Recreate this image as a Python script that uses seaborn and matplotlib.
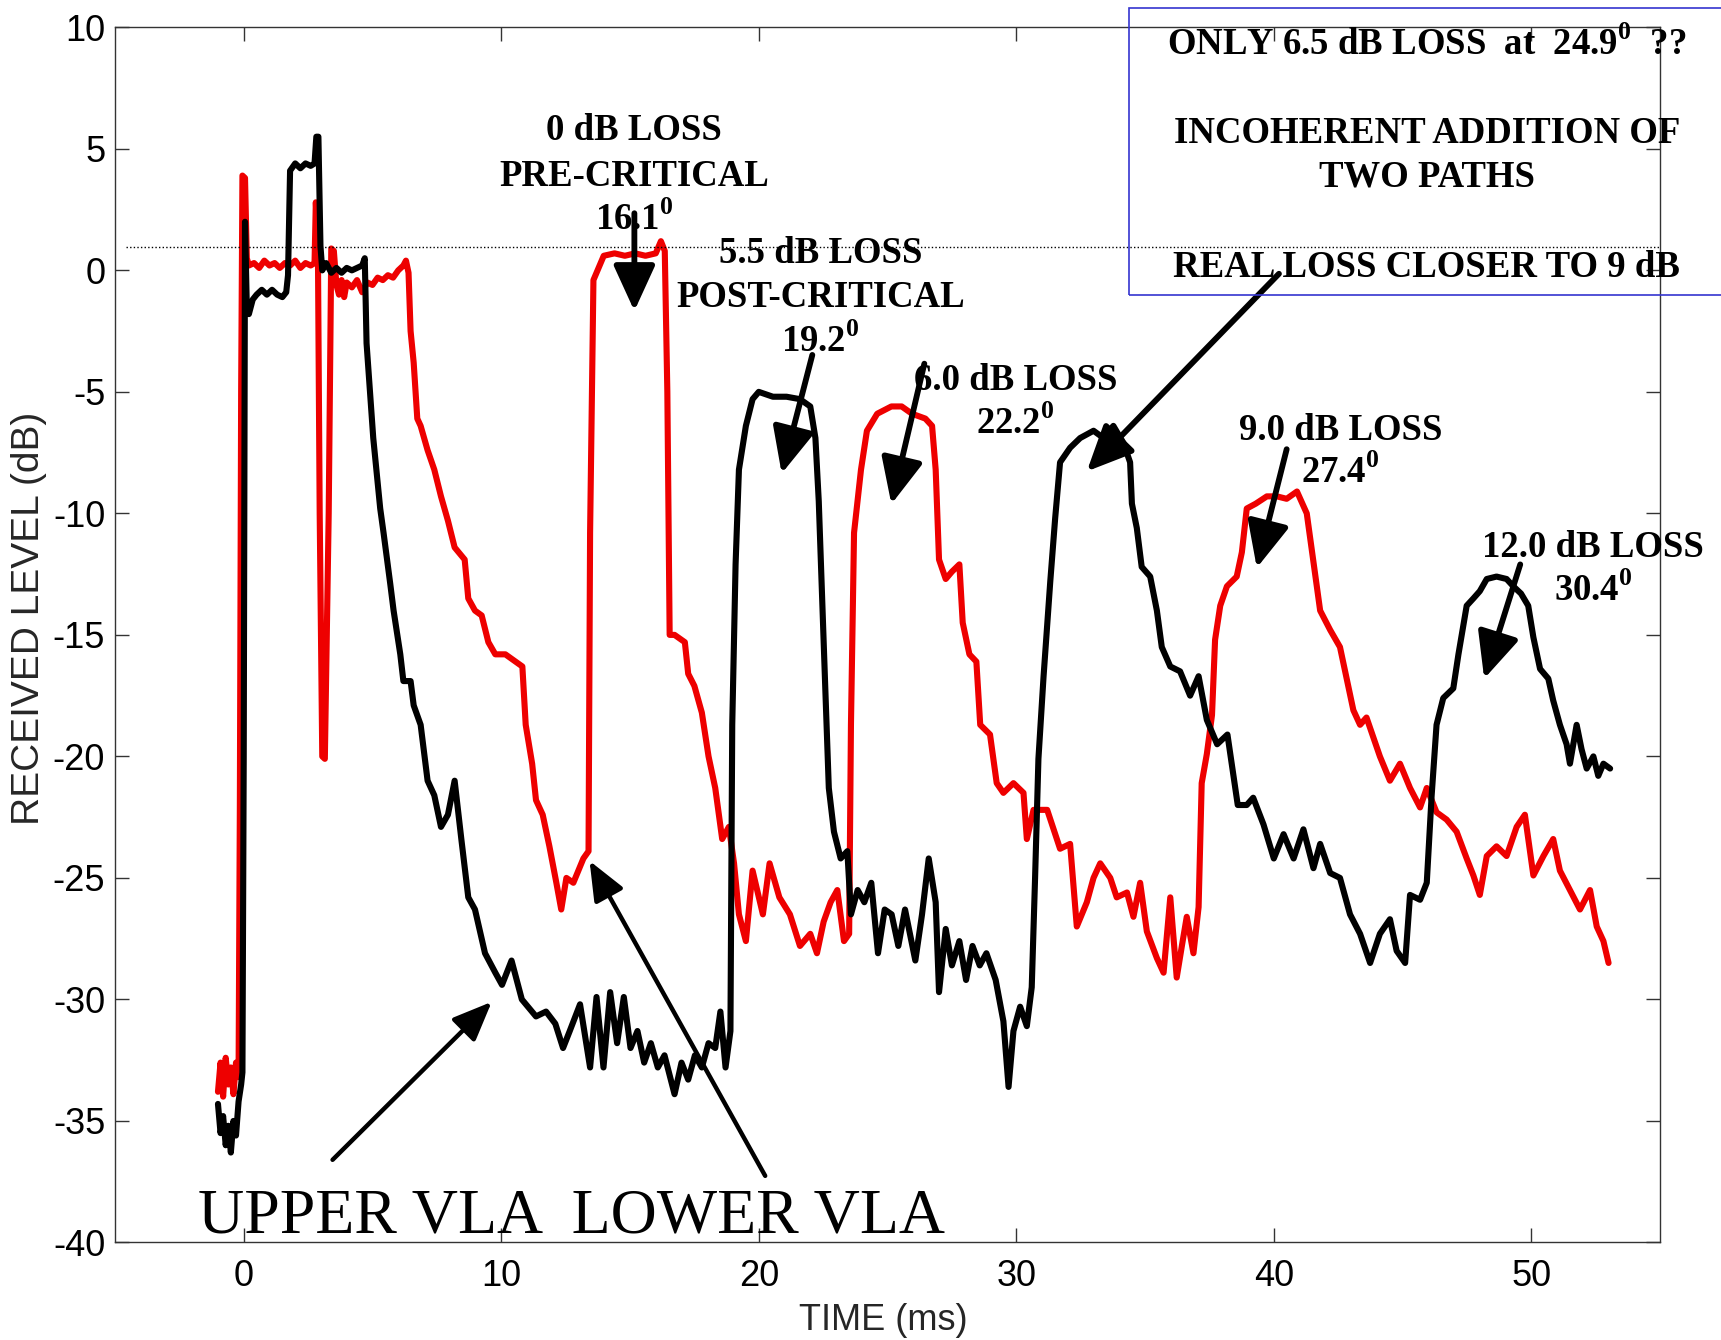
import matplotlib
matplotlib.use("Agg")
import matplotlib.pyplot as plt
import seaborn as sns
import pandas as pd
from matplotlib.patches import Rectangle

# ---------------- data ----------------
upper_t = [-1.0, -0.9, -0.8, -0.7, -0.6, -0.5, -0.4, -0.3, -0.2, -0.1, -0.05, 0.0, 0.05, 0.12, 0.2, 0.35,
           0.5, 0.7, 0.9, 1.1, 1.3, 1.5, 1.65, 1.72, 1.8, 2.0, 2.2, 2.4, 2.6, 2.75, 2.82, 2.9, 2.98, 3.05,
           3.2, 3.4, 3.6, 3.8, 4.0, 4.2, 4.4, 4.6, 4.7, 4.77, 5.03, 5.3, 5.43, 5.69, 5.82, 6.08, 6.2, 6.48,
           6.6, 6.87, 7.14, 7.4, 7.66, 7.93, 8.19, 8.45, 8.72, 8.98, 9.37, 9.77, 10.03, 10.4, 10.8, 11.35,
           11.74, 12.1, 12.4, 12.66, 13.06, 13.45, 13.7, 13.97, 14.23, 14.5, 14.76, 15.02, 15.29, 15.55,
           15.81, 16.08, 16.34, 16.73, 17.0, 17.26, 17.52, 17.79, 18.05, 18.31, 18.51, 18.71, 18.9, 18.97,
           19.1, 19.23, 19.5, 19.76, 20.0, 20.55, 21.08, 21.6, 22.0, 22.2, 22.33, 22.46, 22.59, 22.72,
           22.92, 23.18, 23.44, 23.58, 23.84, 24.1, 24.37, 24.63, 24.89, 25.16, 25.42, 25.68, 26.08, 26.34,
           26.6, 26.87, 27.0, 27.26, 27.5, 27.79, 28.05, 28.3, 28.58, 28.84, 29.2, 29.5, 29.7, 29.89, 30.15,
           30.41, 30.6, 30.73, 30.86, 31.06, 31.32, 31.51, 31.7, 32.09, 32.48, 33.0, 33.39, 33.77, 34.16,
           34.42, 34.49, 34.68, 34.87, 35.2, 35.46, 35.65, 35.98, 36.36, 36.75, 37.08, 37.4, 37.8, 38.2,
           38.6, 38.95, 39.2, 39.6, 40.0, 40.38, 40.77, 41.15, 41.54, 41.8, 42.19, 42.57, 42.96, 43.35,
           43.74, 44.12, 44.51, 44.77, 45.1, 45.29, 45.68, 45.94, 46.13, 46.32, 46.58, 46.97, 47.17, 47.49,
           47.75, 48.0, 48.27, 48.65, 49.04, 49.3, 49.6, 49.88, 50.08, 50.34, 50.66, 50.85, 51.11, 51.37,
           51.5, 51.76, 51.95, 52.15, 52.41, 52.6, 52.8, 53.06]
upper_db = [-34.3, -35.5, -34.8, -36.0, -35.2, -36.3, -35.0, -35.6, -34.2, -33.5, -33.0, -20.0, 2.0, -1.5,
            -1.8, -1.2, -1.0, -0.8, -1.0, -0.8, -1.0, -1.1, -0.9, -0.2, 4.1, 4.4, 4.2, 4.4, 4.3, 4.4, 5.5,
            5.5, 1.0, 0.0, 0.3, -0.1, 0.1, -0.1, 0.1, 0.0, 0.1, 0.2, 0.5, -3.0, -6.9, -9.8, -10.8, -12.9,
            -14.0, -15.8, -16.9, -16.9, -17.9, -18.7, -21.0, -21.6, -22.9, -22.4, -21.0, -23.4, -25.8,
            -26.3, -28.1, -28.9, -29.4, -28.4, -30.0, -30.7, -30.5, -31.0, -32.0, -31.3, -30.2, -32.8,
            -29.9, -32.8, -29.7, -31.8, -29.9, -32.0, -31.3, -32.6, -31.8, -32.8, -32.3, -33.9, -32.6,
            -33.3, -32.3, -32.8, -31.8, -32.0, -30.5, -32.8, -31.3, -18.7, -12.1, -8.2, -6.4, -5.3, -5.0,
            -5.2, -5.2, -5.3, -5.6, -6.9, -9.5, -13.5, -17.4, -21.3, -23.1, -24.2, -23.9, -26.5, -25.5,
            -26.0, -25.2, -28.1, -26.3, -26.5, -27.8, -26.3, -28.4, -26.5, -24.2, -26.0, -29.7, -27.1,
            -28.6, -27.6, -29.2, -27.8, -28.6, -28.1, -29.2, -30.9, -33.6, -31.3, -30.3, -31.1, -29.5,
            -25.0, -20.1, -16.7, -12.8, -10.2, -7.9, -7.3, -6.9, -6.6, -6.9, -6.4, -7.1, -7.9, -9.6, -10.6,
            -12.2, -12.6, -14.0, -15.5, -16.3, -16.5, -17.5, -16.7, -18.5, -19.5, -19.1, -22.0, -22.0,
            -21.7, -22.8, -24.2, -23.2, -24.2, -23.0, -24.6, -23.6, -24.8, -25.0, -26.5, -27.3, -28.5,
            -27.3, -26.7, -28.0, -28.5, -25.7, -25.9, -25.2, -21.6, -18.7, -17.6, -17.2, -15.8, -13.8,
            -13.5, -13.2, -12.7, -12.6, -12.7, -13.0, -13.3, -13.8, -15.1, -16.4, -16.8, -17.7, -18.7,
            -19.5, -20.3, -18.7, -19.7, -20.5, -20.0, -20.8, -20.3, -20.5]

lower_t = [-1.0, -0.9, -0.8, -0.7, -0.6, -0.5, -0.4, -0.3, -0.2, -0.15, -0.1, -0.05, 0.05, 0.12, 0.2, 0.4,
           0.6, 0.8, 1.0, 1.2, 1.4, 1.6, 1.8, 2.0, 2.2, 2.4, 2.6, 2.75, 2.8, 2.88, 2.95, 3.05, 3.15, 3.3,
           3.4, 3.5, 3.6, 3.7, 3.8, 3.9, 4.0, 4.2, 4.4, 4.6, 4.8, 5.0, 5.2, 5.4, 5.6, 5.8, 6.0, 6.2, 6.3,
           6.4, 6.48, 6.6, 6.74, 6.87, 7.14, 7.4, 7.66, 7.93, 8.19, 8.58, 8.72, 8.98, 9.24, 9.5, 9.77,
           10.16, 10.56, 10.82, 10.95, 11.2, 11.35, 11.61, 11.87, 12.14, 12.33, 12.53, 12.8, 13.19, 13.39,
           13.45, 13.58, 13.98, 14.4, 14.8, 15.2, 15.6, 16.0, 16.2, 16.35, 16.45, 16.54, 16.73, 17.13,
           17.26, 17.5, 17.79, 18.05, 18.31, 18.58, 18.84, 19.04, 19.23, 19.5, 19.76, 20.16, 20.42, 20.8,
           21.21, 21.6, 22.0, 22.26, 22.52, 22.79, 23.05, 23.31, 23.51, 23.58, 23.7, 23.97, 24.2, 24.6,
           25.15, 25.55, 25.95, 26.47, 26.73, 26.87, 27.0, 27.26, 27.5, 27.79, 27.92, 28.18, 28.45, 28.6,
           28.98, 29.24, 29.5, 29.89, 30.28, 30.41, 30.67, 31.2, 31.45, 31.7, 32.09, 32.35, 32.74, 33.0,
           33.26, 33.65, 33.9, 34.3, 34.55, 34.81, 35.07, 35.46, 35.72, 35.98, 36.23, 36.43, 36.62, 36.88,
           37.08, 37.2, 37.4, 37.6, 37.72, 37.92, 38.18, 38.56, 38.76, 38.95, 39.3, 39.73, 40.12, 40.5,
           40.9, 41.28, 41.54, 41.8, 42.19, 42.57, 42.83, 43.09, 43.35, 43.6, 43.86, 44.12, 44.51, 44.9,
           45.29, 45.68, 45.94, 46.32, 46.71, 47.1, 47.49, 47.75, 48.0, 48.27, 48.65, 49.04, 49.43, 49.75,
           50.08, 50.47, 50.85, 51.11, 51.5, 51.89, 52.28, 52.54, 52.8, 53.0]
lower_db = [-33.8, -32.6, -34.0, -32.4, -33.5, -32.8, -33.9, -32.6, -33.2, -22.0, -5.0, 3.9, 3.8, 0.5, 0.2,
            0.3, 0.1, 0.4, 0.2, 0.3, 0.1, 0.3, 0.2, 0.4, 0.1, 0.3, 0.2, 0.3, 2.8, 1.0, -10.0, -20.0, -20.1,
            -10.0, 0.9, 0.8, -0.6, -1.0, -0.4, -1.1, -0.5, -0.7, -0.4, -0.9, -0.5, -0.6, -0.3, -0.4, -0.2,
            -0.3, 0.0, 0.2, 0.4, -0.1, -2.5, -3.8, -6.1, -6.4, -7.4, -8.2, -9.3, -10.3, -11.4, -11.9,
            -13.5, -14.0, -14.2, -15.3, -15.8, -15.8, -16.1, -16.3, -18.7, -20.3, -21.8, -22.4, -23.7,
            -25.2, -26.3, -25.0, -25.2, -24.2, -23.9, -10.8, -0.4, 0.6, 0.7, 0.6, 0.7, 0.6, 0.7, 1.2, 0.8,
            -5.0, -15.0, -15.0, -15.3, -16.6, -17.1, -18.2, -20.0, -21.3, -23.4, -22.9, -24.4, -26.5,
            -27.6, -24.7, -26.5, -24.4, -25.8, -26.5, -27.8, -27.3, -28.1, -26.8, -26.0, -25.5, -27.6,
            -27.3, -18.7, -10.8, -8.2, -6.6, -5.9, -5.6, -5.6, -5.9, -6.1, -6.4, -8.2, -11.9, -12.7,
            -12.4, -12.1, -14.5, -15.8, -16.1, -18.7, -19.1, -21.1, -21.5, -21.1, -21.5, -23.4, -22.2,
            -22.2, -23.0, -23.8, -23.6, -27.0, -26.0, -25.0, -24.4, -25.0, -25.8, -25.6, -26.6, -25.2,
            -27.2, -28.3, -28.9, -25.8, -29.1, -27.8, -26.6, -28.1, -26.2, -21.1, -19.9, -18.3, -15.2,
            -13.8, -13.0, -12.6, -11.6, -9.8, -9.6, -9.3, -9.3, -9.4, -9.1, -10.0, -12.0, -14.0, -14.8,
            -15.5, -16.8, -18.1, -18.7, -18.4, -19.2, -20.0, -21.0, -20.3, -21.3, -22.1, -21.3, -22.3,
            -22.6, -23.1, -24.2, -24.9, -25.7, -24.1, -23.7, -24.1, -22.9, -22.4, -24.9, -24.1, -23.4,
            -24.7, -25.5, -26.3, -25.5, -27.0, -27.6, -28.5]

x_ticks = [0, 10, 20, 30, 40, 50]
y_ticks = [10, 5, 0, -5, -10, -15, -20, -25, -30, -35, -40]
reference_level = 0.95

# loss annotations: (lines, x, baselines)
loss_labels = [
    (["0 dB LOSS", "PRE-CRITICAL", r"16.1$^{\mathbf{0}}$"], 15.17, [5.37, 3.48, 1.67]),
    (["5.5 dB LOSS", "POST-CRITICAL", r"19.2$^{\mathbf{0}}$"], 22.4, [0.32, -1.49, -3.34]),
    (["6.0 dB LOSS", r"22.2$^{\mathbf{0}}$"], 29.97, [-4.92, -6.73]),
    (["9.0 dB LOSS", r"27.4$^{\mathbf{0}}$"], 42.6, [-7.0, -8.76]),
    (["12.0 dB LOSS", r"30.4$^{\mathbf{0}}$"], 52.4, [-11.79, -13.6]),
]
# arrows: (tail x, tail y, head x, head y)
loss_arrows = [
    (15.17, 2.35, 15.17, -1.67),
    (22.08, -3.48, 20.89, -8.36),
    (26.43, -3.84, 25.15, -9.62),
    (40.2, -0.14, 32.74, -8.27),
    (40.5, -7.36, 39.34, -12.24),
    (49.57, -12.1, 48.17, -16.8),
]
vla_arrows = [
    (3.45, -36.6, 9.63, -30.1),
    (20.25, -37.26, 13.43, -24.3),
]
box_lines = [r"ONLY 6.5 dB LOSS  at  24.9$^{\mathbf{0}}$  ??", "INCOHERENT ADDITION OF",
             "TWO PATHS", "REAL LOSS CLOSER TO 9 dB"]
box_baselines = [0.959, 0.8935, 0.8608, 0.7936]

# ---------------- style ----------------
sns.set_theme(style="ticks")
plt.rcParams["font.family"] = ["Liberation Sans", "DejaVu Sans"]
plt.rcParams["axes.unicode_minus"] = False
plt.rcParams["mathtext.fontset"] = "custom"
plt.rcParams["mathtext.rm"] = "Liberation Serif:bold"
plt.rcParams["mathtext.bf"] = "Liberation Serif:bold"

df = pd.concat([
    pd.DataFrame({"time": lower_t, "level": lower_db, "array": "LOWER VLA"}),
    pd.DataFrame({"time": upper_t, "level": upper_db, "array": "UPPER VLA"}),
], ignore_index=True)

fig = plt.figure(figsize=(17.21, 13.40), dpi=100)
ax = fig.add_axes([0.0668, 0.0728, 0.8978, 0.9068])

sns.lineplot(data=df, x="time", y="level", hue="array", hue_order=["LOWER VLA", "UPPER VLA"],
             palette={"LOWER VLA": "#ee0000", "UPPER VLA": "black"}, estimator=None, sort=False,
             units="array", linewidth=4.4, legend=False, ax=ax)

ax.axhline(reference_level, xmin=0.007, xmax=1.0, color="black", lw=1.0, ls=(0, (1, 1.6)))

ax.set_xlim(-5, 55)
ax.set_ylim(-40, 10)
ax.set_xticks(x_ticks)
ax.set_yticks(y_ticks)
ax.tick_params(direction="in", length=10, width=1.0, top=True, right=True, labelsize=26,
               colors="#333333", labelcolor="black")
ax.tick_params(axis="x", pad=12)
ax.tick_params(axis="y", pad=7)
for s in ax.spines.values():
    s.set_color("#333333")
    s.set_linewidth(1.0)
ax.set_xlabel("TIME (ms)", fontsize=26)
ax.set_ylabel("RECEIVED LEVEL (dB)", fontsize=28)
ax.xaxis.set_label_coords(0.4975, -0.05)
ax.yaxis.set_label_coords(-0.044, 0.514)

serif_bold = dict(family=["Liberation Serif", "DejaVu Serif"], fontweight="bold", fontsize=26.5,
                  color="black", ha="center", va="baseline", clip_on=False)
for lines, x, ys in loss_labels:
    for txt, yb in zip(lines, ys):
        ax.text(x, yb, txt, **serif_bold)

for x0, y0, x1, y1 in loss_arrows:
    ax.annotate("", xy=(x1, y1), xytext=(x0, y0),
                arrowprops=dict(arrowstyle="-|>,head_length=0.7,head_width=0.32", color="black",
                                lw=4.2, mutation_scale=40, shrinkA=0, shrinkB=0))
for x0, y0, x1, y1 in vla_arrows:
    ax.annotate("", xy=(x1, y1), xytext=(x0, y0),
                arrowprops=dict(arrowstyle="-|>,head_length=0.6,head_width=0.25", color="black",
                                lw=3.2, mutation_scale=40, shrinkA=0, shrinkB=0))

ax.text(12.71, -39.6, "UPPER VLA  LOWER VLA", family=["Liberation Serif", "DejaVu Serif"],
        fontsize=46, ha="center", va="baseline", color="black")

fig.patches.append(Rectangle((0.656, 0.780), 0.36, 0.2143, transform=fig.transFigure, fill=False,
                             edgecolor="#3535d0", lw=1.2, zorder=5))
for txt, yb in zip(box_lines, box_baselines):
    fig.text(0.829, yb, txt, family=["Liberation Serif", "DejaVu Serif"], fontweight="bold",
             fontsize=26.5, ha="center", va="baseline", color="black", zorder=6)

fig.savefig("out.png", dpi=100)
